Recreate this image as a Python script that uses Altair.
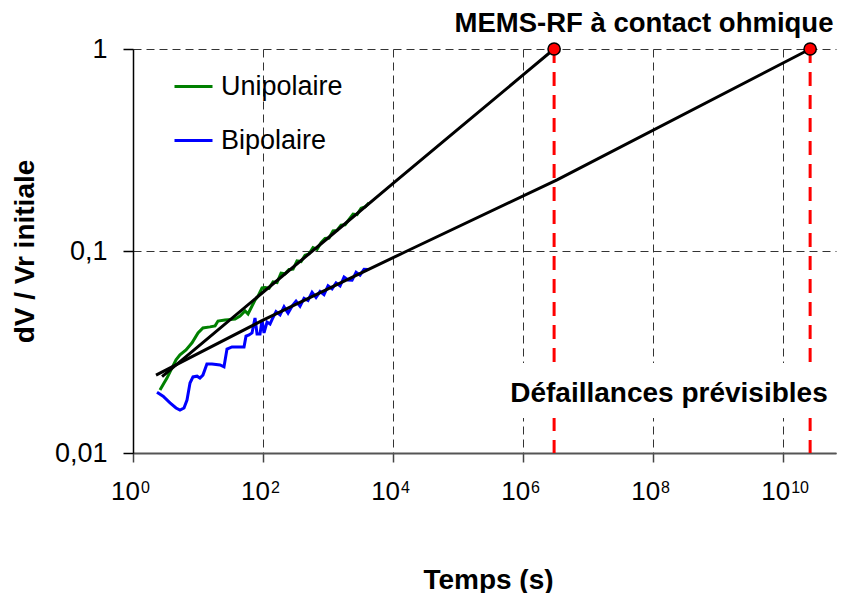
import altair as alt
import pandas as pd

# ---- data ----
uni_t = [2.60, 3.0, 3.33, 3.98, 4.59, 5.28, 6.54, 8.09, 10, 11.9, 15.3, 18.3, 20.3, 26.0, 37.1,
         44.3, 52.8, 58.8, 67.7, 75.3, 83.8, 96.6, 107.4, 123.7, 142.6, 164.1, 189.2, 217.8,
         251.2, 289.5, 333.4, 384.6, 442.6, 510.5, 587.5, 677.5, 779.9, 899.5, 1035, 1194,
         1374, 1585, 1828, 2104, 2427, 2793, 3221, 3707, 4276]
uni_v = [0.0205, 0.0222, 0.0235, 0.0264, 0.0289, 0.0306, 0.0324, 0.0351, 0.0393, 0.0416,
         0.0421, 0.0426, 0.045, 0.0455, 0.046, 0.0476, 0.0505, 0.0488, 0.0534, 0.0572, 0.0598,
         0.0656, 0.0659, 0.0654, 0.0703, 0.0698, 0.0776, 0.0771, 0.0810, 0.0813, 0.0893,
         0.0887, 0.0953, 0.0968, 0.104, 0.102, 0.110, 0.1154, 0.1159, 0.1259, 0.1265, 0.1343,
         0.1349, 0.1432, 0.1524, 0.1513, 0.1627, 0.1652, 0.1734]

bip_t = [2.34, 2.9, 3.71, 4.59, 5.28, 6.09, 6.77, 7.53, 8.37, 9.66, 10.7, 11.9, 13.7, 16.4,
         21.8, 25.1, 27.9, 33.3, 51.0, 54.7, 60.9, 67.7, 75.3, 80.9, 89.9, 96.6, 103.5, 115.3,
         128.2, 137.5, 158.5, 182.7, 210.4, 242.5, 279.3, 322.1, 370.7, 427.6, 492.0, 567.5,
         653.1, 753.4, 867.0, 1000, 1153, 1327, 1531, 1762, 2032, 2339, 2698, 3105, 3581, 4121]
bip_v = [0.0200, 0.0191, 0.0177, 0.0167, 0.0163, 0.0167, 0.0183, 0.0222, 0.0238, 0.0240,
         0.0235, 0.0243, 0.0276, 0.0276, 0.0273, 0.0267, 0.0327, 0.0335, 0.0335, 0.0379,
         0.0384, 0.0393, 0.0466, 0.0388, 0.0388, 0.0455, 0.0393, 0.0445, 0.0435, 0.0457,
         0.0501, 0.0483, 0.0529, 0.0493, 0.0533, 0.0565, 0.0533, 0.0583, 0.0569, 0.0624,
         0.0589, 0.0630, 0.0608, 0.0673, 0.0650, 0.0695, 0.0671, 0.0743, 0.0718, 0.0716,
         0.0785, 0.0759, 0.0811, 0.0810]

uni_fit_t = [2.8, 10, 100, 1000, 1e4, 1e5, 1e6, 3.0e6]
uni_fit_v = [0.0239, 0.0336, 0.0625, 0.116, 0.216, 0.401, 0.744, 1.0]
bip_fit_t = [2.26, 100, 3981, 16400, 3.33e6, 2.6e10]
bip_fit_v = [0.0243, 0.0455, 0.0805, 0.1, 0.225, 1.0]

fail_t = [3.0e6, 2.6e10]
fail_v = [1.0, 1.0]
fail_floor = [0.01, 0.01]

series_names = ["Unipolaire", "Bipolaire"]
series_colors = ["#008000", "#0000FF"]
x_ticks = [1, 100, 1e4, 1e6, 1e8, 1e10]
x_base = ["10", "10", "10", "10", "10", "10"]
x_exponents = ["0", "2", "4", "6", "8", "10"]
y_ticks = [0.01, 0.1, 1]

FONT = "Liberation Sans"

# ---- tables ----
data_df = pd.concat([
    pd.DataFrame({"t": uni_t, "v": uni_v, "serie": "Unipolaire", "i": range(len(uni_t))}),
    pd.DataFrame({"t": bip_t, "v": bip_v, "serie": "Bipolaire", "i": range(len(bip_t))}),
])
fit_df = pd.concat([
    pd.DataFrame({"t": uni_fit_t, "v": uni_fit_v, "fit": "u", "i": range(len(uni_fit_t))}),
    pd.DataFrame({"t": bip_fit_t, "v": bip_fit_v, "fit": "b", "i": range(len(bip_fit_t))}),
])
fail_df = pd.DataFrame({"t": fail_t, "v": fail_v, "v2": fail_floor})
lab_df = pd.DataFrame({"t": x_ticks, "b": x_base, "e": x_exponents})

xs = alt.Scale(type="log", domain=[1, 6.5e10], nice=False)
ys = alt.Scale(type="log", domain=[0.01, 1], nice=False)

x_axis = alt.Axis(
    values=x_ticks,
    labels=False,
    grid=True, gridDash=[8, 5], gridColor="#333", gridWidth=1,
    tickSize=9, tickColor="#444", tickWidth=1.5,
    domainColor="#555", domainWidth=2,
    title="Temps (s)", titleFont=FONT, titleFontSize=28, titleFontWeight="bold",
    titleColor="black", titleX=355, titleY=135, titleAlign="center",
    titleBaseline="alphabetic",
)
y_axis = alt.Axis(
    values=y_ticks,
    labelExpr="datum.value == 1 ? '1' : datum.value > 0.05 ? '0,1' : '0,01'",
    grid=True, gridDash=[8, 5], gridColor="#333", gridWidth=1,
    tickSize=10, tickColor="black", tickWidth=1.5,
    domainColor="black", domainWidth=1.5,
    labelFont=FONT, labelFontSize=27, labelColor="black", labelPadding=16,
    labelFlush=False, labelOverlap=False,
    title="dV / Vr initiale", titleFont=FONT, titleFontSize=28, titleFontWeight="bold",
    titleColor="black", titleX=-100, titleY=202, titleAngle=270, titleAlign="center",
    titleBaseline="alphabetic",
)

data_layer = alt.Chart(data_df).mark_line(strokeWidth=3).encode(
    x=alt.X("t:Q", scale=xs, axis=x_axis),
    y=alt.Y("v:Q", scale=ys, axis=y_axis),
    color=alt.Color("serie:N", scale=alt.Scale(domain=series_names, range=series_colors),
                    legend=alt.Legend(orient="none", legendX=40, legendY=17, title=None,
                                      symbolType="stroke", symbolSize=1444,
                                      symbolStrokeWidth=3, labelFont=FONT,
                                      labelFontSize=27, labelColor="black",
                                      labelOffset=7, rowPadding=20, padding=0)),
    order="i:Q",
)

fit_layer = alt.Chart(fit_df).mark_line(strokeWidth=3, color="black").encode(
    x=alt.X("t:Q", scale=xs),
    y=alt.Y("v:Q", scale=ys),
    detail="fit:N",
    order="i:Q",
)

rule_layer = alt.Chart(fail_df).mark_rule(color="#FF0000", strokeWidth=3, strokeDash=[14, 9]).encode(
    x=alt.X("t:Q", scale=xs),
    y=alt.Y("v:Q", scale=ys),
    y2="v2:Q",
)

box_layer = alt.Chart(pd.DataFrame({"k": [0]})).mark_rect(fill="white", color="white").encode(
    x=alt.value(372), x2=alt.value(703), y=alt.value(314), y2=alt.value(369),
)

txt_fail = alt.Chart(pd.DataFrame({"label": ["Défaillances prévisibles"]})).mark_text(
    font=FONT, fontSize=28, fontWeight="bold", color="black", align="center",
    baseline="alphabetic",
).encode(text="label:N", x=alt.value(536), y=alt.value(353))

txt_mems = alt.Chart(pd.DataFrame({"label": ["MEMS-RF à contact ohmique"]})).mark_text(
    font=FONT, fontSize=27.5, fontWeight="bold", color="black", align="center",
    baseline="alphabetic",
).encode(text="label:N", x=alt.value(511), y=alt.value(-17))

base_layer = alt.Chart(lab_df).mark_text(
    font=FONT, fontSize=26, color="black", align="right", baseline="alphabetic", dx=7,
).encode(x=alt.X("t:Q", scale=xs), y=alt.value(451), text="b:N")

exp_layer = alt.Chart(lab_df).mark_text(
    font=FONT, fontSize=16, color="black", align="left", baseline="alphabetic", dx=8,
).encode(x=alt.X("t:Q", scale=xs), y=alt.value(444), text="e:N")

dot_layer = alt.Chart(fail_df).mark_point(filled=True, size=150, fill="#FF0000",
                                          stroke="black", strokeWidth=1.5, opacity=1).encode(
    x=alt.X("t:Q", scale=xs),
    y=alt.Y("v:Q", scale=ys),
)

chart = alt.layer(
    data_layer, fit_layer, rule_layer, box_layer, txt_fail, txt_mems,
    base_layer, exp_layer, dot_layer
).properties(
    width=703, height=404,
    autosize=alt.AutoSizeParams(type="none"),
    padding={"left": 125, "top": 41, "right": 2, "bottom": 140},
).configure_view(stroke=None)

chart.save("out.html", embed_options={"renderer": "svg", "actions": False})
